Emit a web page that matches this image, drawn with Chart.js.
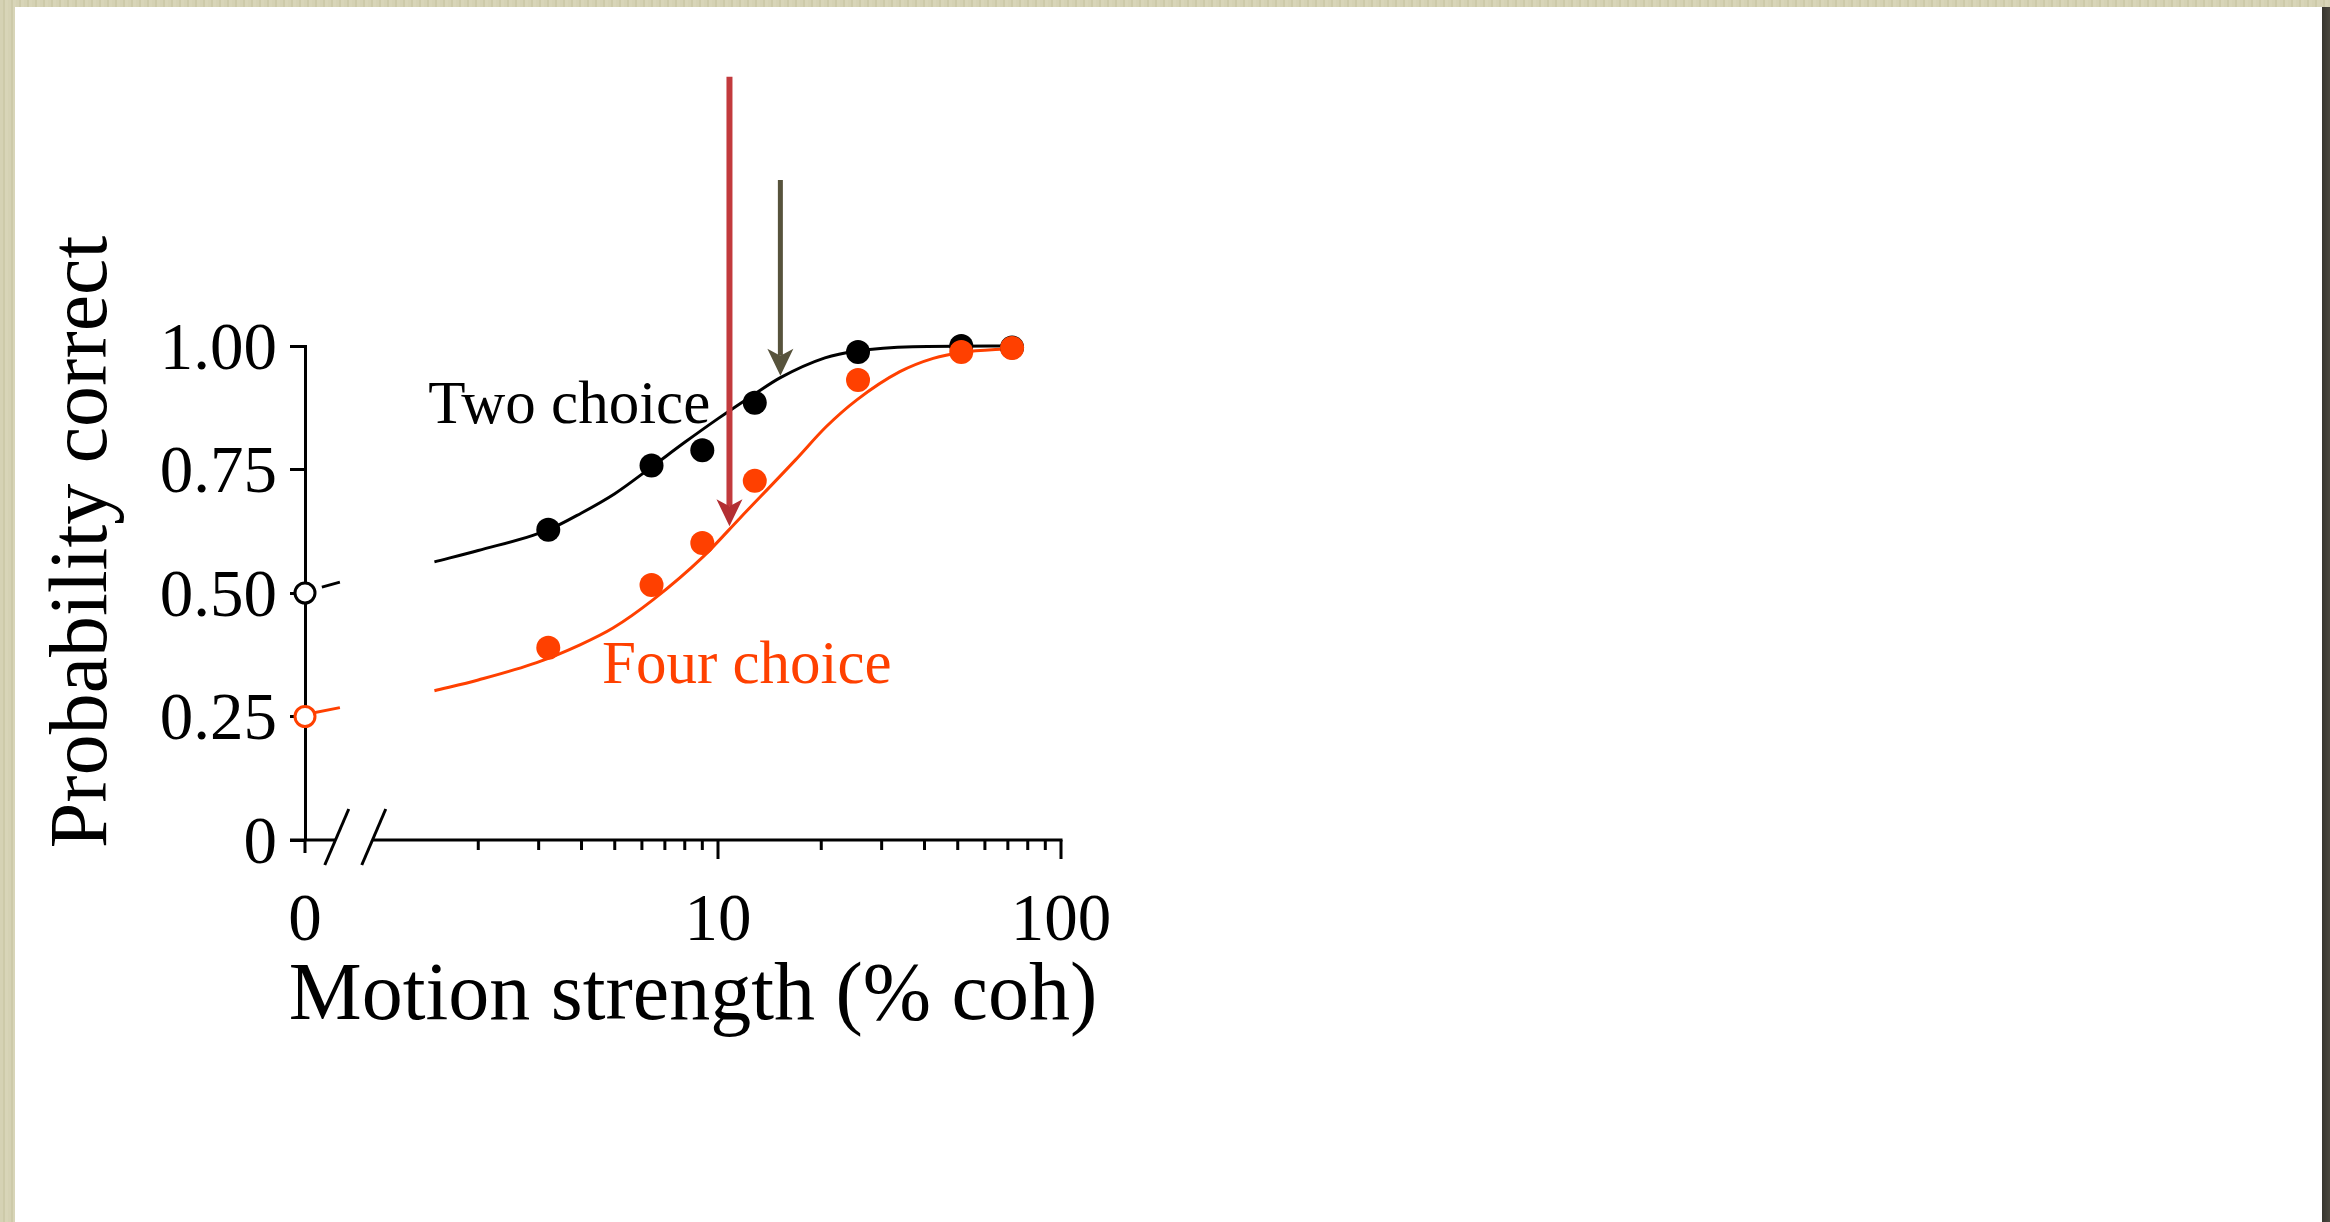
<!DOCTYPE html>
<html>
<head>
<meta charset="utf-8">
<script src="https://cdn.jsdelivr.net/npm/chart.js@4.4.1/dist/chart.umd.min.js"></script>
<style>
  html, body { margin: 0; padding: 0; }
  body { width: 2330px; height: 1222px; position: relative; overflow: hidden;
         background: repeating-linear-gradient(90deg, #d5d2b4 0 3px, #cdcaa9 3px 5px, #d8d5b8 5px 8px); }
  #panel { position: absolute; left: 15px; top: 7px; width: 2307px; height: 1215px; background: #fff; }
  #shadow { position: absolute; left: 2322px; top: 7px; width: 8px; height: 1215px;
            background: linear-gradient(to right, #37362f, #4a483f); }
  #myChart { position: absolute; left: 0; top: 0; }
</style>
</head>
<body>
<div id="panel"></div>
<div id="shadow"></div>
<canvas id="myChart" width="2330" height="1222"></canvas>
<script>
const X_ZERO = 0.625;   // where "0 % coh" sits on the log axis
const BREAK_AT = 0.87;  // middle of the axis break

// data
const cohLevels   = [3.2, 6.4, 9.0, 12.8, 25.6, 51.2, 72];
const twoChoiceP  = [0.628, 0.758, 0.789, 0.885, 0.988, 1.0, 0.997];
const fourChoiceP = [0.389, 0.516, 0.601, 0.727, 0.931, 0.988, 0.996];
const zeroCohP    = [0.50, 0.25];

// fitted curves
const twoFitCoh  = [1.49, 2.0, 3.2, 4.0, 5.0, 6.4, 8.0, 10, 12.8, 15.2, 20.5, 25.4, 37, 72];
const twoFitP    = [0.563, 0.586, 0.628, 0.662, 0.701, 0.755, 0.805, 0.853, 0.903, 0.936, 0.976, 0.990, 0.9986, 1.0];
const fourFitCoh = [1.49, 2.0, 2.96, 3.96, 4.94, 6.46, 9.04, 11.6, 16.8, 20.7, 25.4, 33.9, 42.4, 51.4, 72];
const fourFitP   = [0.302, 0.324, 0.359, 0.395, 0.429, 0.486, 0.573, 0.652, 0.769, 0.837, 0.891, 0.948, 0.975, 0.987, 0.995];
// short pieces of the fits before the axis break
const twoStubCoh  = [0.70, 0.79];
const twoStubP    = [0.512, 0.522];
const fourStubCoh = [0, 0.79];
const fourStubP   = [0.254, 0.268];

// thresholds (arrows)
const thresholdCoh = [15.2, 10.8];
const thresholdP   = [0.94, 0.635];

const yTicks = [0, 0.25, 0.5, 0.75, 1];
const yTickLabels = ['0', '0.25', '0.50', '0.75', '1.00'];
const xTicks = [0, 10, 100];
const xTickLabels = ['0', '10', '100'];
const xMinorTicks = [2, 3, 4, 5, 6, 7, 8, 9, 20, 30, 40, 50, 60, 70, 80, 90];

const ORANGE = '#ff4000';
const FONT = 'Liberation Serif';

const onAxis = c => (c === 0 ? X_ZERO : c);
const pts = (xs, ys) => xs.map((c, i) => ({ x: onAxis(c), y: ys[i] }));

const decor = {
  id: 'decor',
  afterDatasetsDraw(chart) {
    const { ctx, scales: { x, y } } = chart;
    const y0 = y.getPixelForValue(0);
    ctx.save();

    // x axis with break
    ctx.strokeStyle = '#000';
    ctx.lineWidth = 3;
    const bx = x.getPixelForValue(BREAK_AT);
    ctx.beginPath();
    ctx.moveTo(x.left - 15, y0); ctx.lineTo(bx - 18.5, y0);
    ctx.moveTo(bx + 18.5, y0); ctx.lineTo(x.right + 1.5, y0);
    ctx.stroke();
    [-18.5, 18.5].forEach(d => {
      ctx.beginPath();
      ctx.moveTo(bx + d + 13, y0 - 31);
      ctx.lineTo(bx + d - 11, y0 + 25);
      ctx.stroke();
    });
    // x tick marks
    ctx.beginPath();
    xMinorTicks.forEach(v => { const px = x.getPixelForValue(v); ctx.moveTo(px, y0); ctx.lineTo(px, y0 + 10); });
    [10, 100].forEach(v => { const px = x.getPixelForValue(v); ctx.moveTo(px, y0); ctx.lineTo(px, y0 + 19); });
    const zx = x.getPixelForValue(X_ZERO);
    ctx.moveTo(zx, y0); ctx.lineTo(zx, y0 + 13);
    ctx.stroke();

    // curve labels
    ctx.font = '61px "' + FONT + '"';
    ctx.textBaseline = 'alphabetic';
    ctx.textAlign = 'left';
    ctx.fillStyle = '#000';
    ctx.fillText('Two choice', x.getPixelForValue(1.43), y.getPixelForValue(0.845));
    ctx.fillStyle = ORANGE;
    ctx.fillText('Four choice', x.getPixelForValue(4.59), y.getPixelForValue(0.318));

    // threshold arrows
    const arrows = [
      { line: '#57533c', head: '#57533c', top: 1.336, w: 5 },
      { line: '#c23a3d', head: '#b32f33', top: 1.545, w: 6 }
    ];
    thresholdCoh.forEach((c, i) => {
      const a = arrows[i];
      const px = x.getPixelForValue(c);
      const tip = y.getPixelForValue(thresholdP[i]);
      const top = y.getPixelForValue(a.top);
      ctx.strokeStyle = a.line;
      ctx.lineWidth = a.w;
      ctx.beginPath();
      ctx.moveTo(px, top); ctx.lineTo(px, tip - 20);
      ctx.stroke();
      ctx.fillStyle = a.head;
      ctx.beginPath();
      ctx.moveTo(px, tip);
      ctx.lineTo(px - 13, tip - 27);
      ctx.lineTo(px, tip - 20);
      ctx.lineTo(px + 13, tip - 27);
      ctx.closePath();
      ctx.fill();
    });

    // axis titles
    ctx.fillStyle = '#000';
    ctx.font = '82px "' + FONT + '"';
    ctx.textAlign = 'center';
    ctx.fillText('Motion strength (% coh)', 693, 1019);
    ctx.translate(106, 542);
    ctx.rotate(-Math.PI / 2);
    ctx.fillText('Probability correct', 0, 0);
    ctx.restore();
  }
};

const ctx = document.getElementById('myChart').getContext('2d');

new Chart(ctx, {
  type: 'line',
  data: {
    datasets: [
      { label: 'Two choice fit', data: pts(twoFitCoh, twoFitP), borderColor: '#000', borderWidth: 3,
        pointRadius: 0, cubicInterpolationMode: 'monotone', order: 5 },
      { label: 'Two choice fit (0)', data: pts(twoStubCoh, twoStubP), borderColor: '#000', borderWidth: 3,
        pointRadius: 0, order: 5 },
      { label: 'Four choice fit', data: pts(fourFitCoh, fourFitP), borderColor: ORANGE, borderWidth: 3,
        pointRadius: 0, cubicInterpolationMode: 'monotone', order: 4 },
      { label: 'Four choice fit (0)', data: pts(fourStubCoh, fourStubP), borderColor: ORANGE, borderWidth: 3,
        pointRadius: 0, order: 4 },
      { label: 'Two choice', data: pts(cohLevels, twoChoiceP), showLine: false,
        pointRadius: 12, pointBackgroundColor: '#000', pointBorderWidth: 0, order: 2 },
      { label: 'Four choice', data: pts(cohLevels, fourChoiceP), showLine: false,
        pointRadius: 12, pointBackgroundColor: ORANGE, pointBorderWidth: 0, order: 1 },
      { label: 'Chance', data: pts([0, 0], zeroCohP), showLine: false,
        pointRadius: 10, pointBackgroundColor: '#fff', pointBorderColor: ['#000', ORANGE],
        pointBorderWidth: 3, order: 0 }
    ]
  },
  options: {
    responsive: false,
    animation: false,
    clip: false,
    layout: { padding: { left: 0, top: 346, right: 1269, bottom: 232 } },
    plugins: { legend: { display: false }, tooltip: { enabled: false } },
    scales: {
      x: {
        type: 'logarithmic',
        min: X_ZERO,
        max: 100,
        bounds: 'data',
        afterFit: s => { s.height = 150; },
        afterBuildTicks: s => { s.ticks = xTicks.map(c => ({ value: onAxis(c) })); },
        grid: { display: false },
        border: { display: false },
        ticks: {
          autoSkip: false, maxRotation: 0, padding: 34, color: '#000',
          font: { family: FONT, size: 67 },
          callback: (v, i) => xTickLabels[i]
        }
      },
      y: {
        type: 'linear',
        min: 0,
        max: 1,
        afterFit: s => { s.width = 305; },
        afterBuildTicks: s => { s.ticks = yTicks.map(v => ({ value: v })); },
        grid: { display: true, drawOnChartArea: false, tickLength: 15, tickWidth: 3, tickColor: '#000' },
        border: { display: true, width: 3, color: '#000' },
        ticks: {
          padding: 13, labelOffset: 5, color: '#000',
          font: { family: FONT, size: 67 },
          callback: (v, i) => yTickLabels[i]
        }
      }
    }
  },
  plugins: [decor]
});
</script>
</body>
</html>
